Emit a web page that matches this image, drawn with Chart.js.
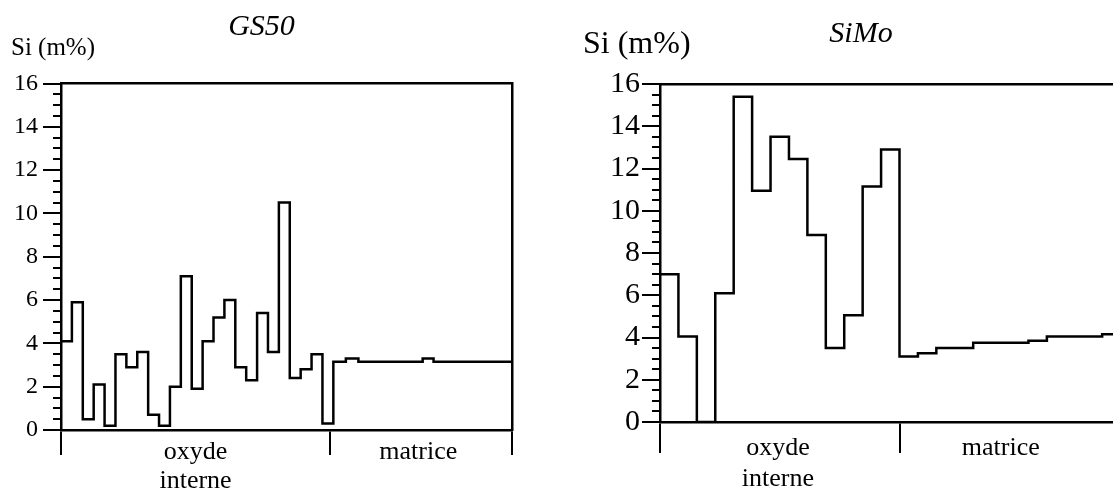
<!DOCTYPE html>
<html>
<head>
<meta charset="utf-8">
<script src="https://cdn.jsdelivr.net/npm/chart.js@4.4.1/dist/chart.umd.min.js"></script>
<style>
  html, body { margin: 0; padding: 0; background: #fff; overflow: hidden; width: 1113px; height: 491px; }
  .panel { position: absolute; top: 0; height: 491px; }
  #gsPanel { left: 0; width: 530px; }
  #siPanel { left: 560px; width: 579px; }
</style>
</head>
<body>
<div class="panel" id="gsPanel"><canvas id="gsChart"></canvas></div>
<div class="panel" id="siPanel"><canvas id="siChart"></canvas></div>
<script>
// step edges along the profile (arbitrary depth units) and Si content (m%) of each step
const gs50Edges = [0, 1, 2, 3, 4, 5, 6, 7, 8, 9, 10, 11, 12, 13, 14, 15, 16, 17, 18, 19, 20, 21, 22, 23, 24, 25, 26.15, 27.3, 33.2, 34.2, 41.4];
const gs50Si = [4.1, 5.9, 0.5, 2.1, 0.2, 3.5, 2.9, 3.6, 0.7, 0.2, 2.0, 7.1, 1.9, 4.1, 5.2, 6.0, 2.9, 2.3, 5.4, 3.6, 10.5, 2.4, 2.8, 3.5, 0.3, 3.15, 3.3, 3.15, 3.3, 3.15];

const simoEdges = [0, 1, 2, 3, 4, 5, 6, 7, 8, 9, 10, 11, 12, 13, 14, 15, 17, 20, 21, 24, 26];
const simoSi = [7.0, 4.05, 0, 6.1, 15.4, 10.95, 13.5, 12.45, 8.85, 3.5, 5.05, 11.15, 12.9, 3.1, 3.25, 3.5, 3.75, 3.85, 4.05, 4.15];

// zones under the x axis
const zoneNames = [['oxyde', 'interne'], 'matrice'];
const gs50ZoneEdges = [0, 24.7, 41.4];
const gs50ZoneLabelAt = [12.35, 32.8];
const simoZoneEdges = [0, 13, 26];
const simoZoneLabelAt = [6.4, 18.5];

const yLabel = 'Si (m%)';
const yMax = 16;
const yMajorStep = 2;
const yMinorStep = 0.5;

const serif = "'Liberation Serif', 'Times New Roman', serif";

function stepPoints(edges, vals) {
  const pts = vals.map((v, i) => ({ x: edges[i], y: v }));
  pts.push({ x: edges[edges.length - 1], y: vals[vals.length - 1] });
  return pts;
}

function buildChart(id, o) {
  const xMax = o.zoneEdges[o.zoneEdges.length - 1];
  const xTicks = o.zoneEdges.concat(o.labelAt).sort((a, b) => a - b);
  return new Chart(document.getElementById(id), {
    type: 'line',
    data: { datasets: [{ data: stepPoints(o.edges, o.values), stepped: true, borderColor: '#000', borderWidth: 2.5, pointRadius: 0, fill: false }] },
    options: {
      responsive: true, maintainAspectRatio: false, animation: false, events: [],
      layout: { padding: { left: o.padLeft, right: o.padRight, top: 0, bottom: 0 } },
      plugins: {
        legend: { display: false }, tooltip: { enabled: false },
        title: { display: true, text: o.title, color: '#000', font: { family: serif, size: 30, style: 'italic', weight: 'normal' }, padding: { top: o.tTop, bottom: o.tBottom } },
        subtitle: { display: true, text: yLabel, align: 'start', color: '#000', font: { family: serif, size: o.sFont }, padding: { top: 0, bottom: o.sBottom } }
      },
      scales: {
        x: {
          type: 'linear', position: 'bottom', min: 0, max: xMax,
          afterBuildTicks: s => { s.ticks = xTicks.map(v => ({ value: v })); },
          ticks: {
            autoSkip: false, maxRotation: 0, padding: o.xPad, color: '#000',
            font: { family: serif, size: 26, lineHeight: o.xLine },
            callback: v => { const k = o.labelAt.indexOf(v); return k < 0 ? '' : zoneNames[k]; }
          },
          grid: { drawOnChartArea: false, tickLength: o.xTickLen, lineWidth: 2, color: '#000', tickColor: c => (c.tick && c.tick.label ? 'rgba(0,0,0,0)' : '#000') },
          border: { display: true, color: '#000', width: 2.5 },
          afterFit: s => { s.height = o.xHeight; }
        },
        y: {
          position: 'left', weight: 1, min: 0, max: yMax,
          ticks: { stepSize: yMajorStep, autoSkip: false, padding: o.yPad, color: '#000', font: { family: serif, size: o.yFont } },
          grid: { drawOnChartArea: false, tickLength: 18, lineWidth: 2, color: '#000' },
          border: { display: true, color: '#000', width: 2.5 },
          afterFit: s => { s.width = o.yWidth; }
        },
        yMinor: {
          position: 'left', weight: 0, min: 0, max: yMax,
          ticks: { stepSize: yMinorStep, autoSkip: false, callback: () => '' },
          grid: { drawOnChartArea: false, tickLength: 8, lineWidth: 2, color: '#000' },
          border: { display: false },
          afterFit: s => { s.width = 0; }
        },
        xTop: {
          type: 'linear', position: 'top', min: 0, max: xMax,
          ticks: { display: false }, grid: { display: false },
          border: { display: true, color: '#000', width: 2.5 },
          afterFit: s => { s.height = 0; }
        },
        yRight: {
          position: 'right', min: 0, max: yMax,
          ticks: { display: false }, grid: { display: false },
          border: { display: true, color: '#000', width: 2.5 },
          afterFit: s => { s.width = 0; }
        }
      }
    }
  });
}

buildChart('gsChart', {
  title: 'GS50', edges: gs50Edges, values: gs50Si, zoneEdges: gs50ZoneEdges, labelAt: gs50ZoneLabelAt,
  padLeft: 11, padRight: 18, yWidth: 50, yFont: 24, yPad: 5,
  tTop: 9, tBottom: -12, sFont: 25, sBottom: 20.5,
  xHeight: 61, xTickLen: 25, xPad: -17.5, xLine: '29px'
});

buildChart('siChart', {
  title: 'SiMo', edges: simoEdges, values: simoSi, zoneEdges: simoZoneEdges, labelAt: simoZoneLabelAt,
  padLeft: 23, padRight: 0, yWidth: 77, yFont: 30, yPad: 2,
  tTop: 16, tBottom: -26.2, sFont: 32, sBottom: 19.8,
  xHeight: 69, xTickLen: 31, xPad: -20.5, xLine: '31px'
});
</script>
</body>
</html>
